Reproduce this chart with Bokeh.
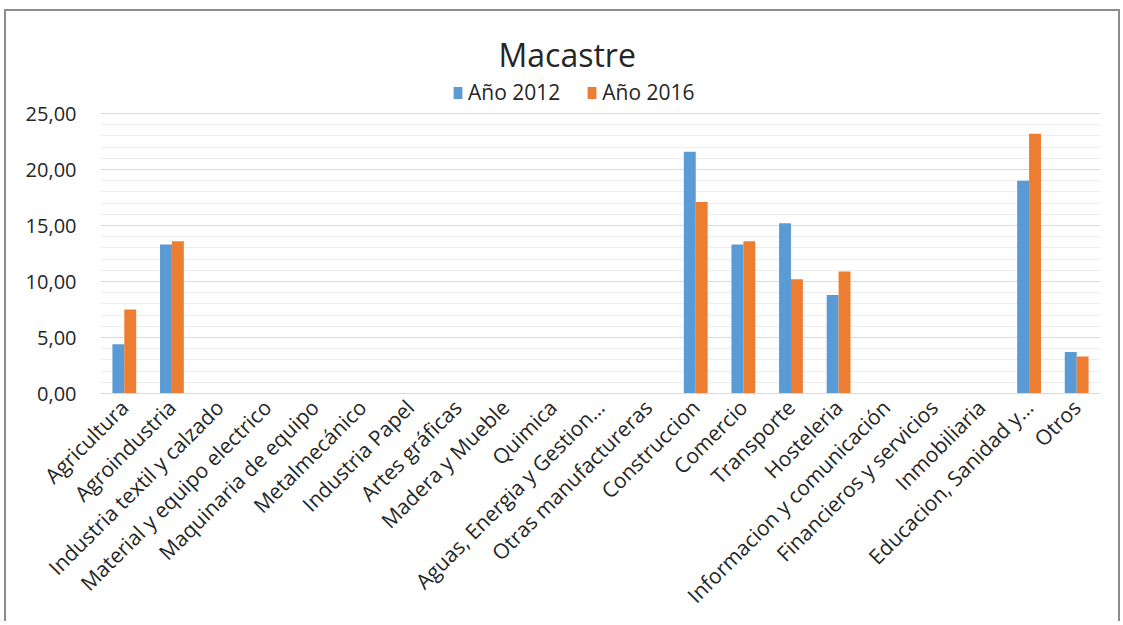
from bokeh.plotting import figure
from bokeh.models import (ColumnDataSource, FactorRange, Range1d, FixedTicker,
                          CustomJSTickFormatter, Legend, LegendItem)
from bokeh.transform import dodge
from bokeh.embed import file_html
from bokeh.resources import INLINE
import math

categories = ["Agricultura", "Agroindustria", "Industria textil y calzado",
              "Material y equipo electrico", "Maquinaria de equipo", "Metalmecánico",
              "Industria Papel", "Artes gráficas", "Madera y Mueble", "Quimica",
              "Aguas, Energia y Gestion…", "Otras manufactureras", "Construccion",
              "Comercio", "Transporte", "Hosteleria", "Informacion y comunicación",
              "Financieros y servicios", "Inmobiliaria", "Educacion, Sanidad y…", "Otros"]
anio_2012 = [4.4, 13.3, 0, 0, 0, 0, 0, 0, 0, 0, 0, 0, 21.6, 13.3, 15.2, 8.8, 0, 0, 0, 19.0, 3.7]
anio_2016 = [7.5, 13.6, 0, 0, 0, 0, 0, 0, 0, 0, 0, 0, 17.1, 13.6, 10.2, 10.9, 0, 0, 0, 23.2, 3.3]
series_names = ["Año 2012", "Año 2016"]
y_major_ticks = [0, 5, 10, 15, 20, 25]
y_minor_ticks = [v for v in range(1, 25) if v % 5]

src = ColumnDataSource(dict(cat=categories, a=anio_2012, b=anio_2016))

FONT = "Open Sans"
PX_PER_UNIT = 11.2
Y_TOP = 28.4  # extra headroom above 25 for the legend (no gridlines there)
p = figure(x_range=FactorRange(*categories), y_range=Range1d(0, Y_TOP),
           frame_width=1000, frame_height=int(round(Y_TOP * PX_PER_UNIT)),
           output_backend="svg", toolbar_location=None, title="Macastre")
p.min_border_left = 94
p.min_border_right = 18
p.min_border_top = 64
p.min_border_bottom = 226

p.title.align = "left"
p.title.offset = 398
p.title.text_font = FONT
p.title.text_font_style = "normal"
p.title.text_font_size = "32px"
p.title.text_color = "#262626"
p.title.standoff = 0

r1 = p.vbar(x=dodge("cat", -0.125, range=p.x_range), top="a", width=0.25, source=src,
            fill_color="#5B9BD5", line_color=None)
r2 = p.vbar(x=dodge("cat", 0.125, range=p.x_range), top="b", width=0.25, source=src,
            fill_color="#ED7D31", line_color=None)

legend = Legend(items=[LegendItem(label=series_names[0], renderers=[r1]),
                       LegendItem(label=series_names[1], renderers=[r2])],
                orientation="horizontal", location=(352, 287),
                label_text_font=FONT, label_text_font_size="21px",
                label_text_color="#262626", glyph_width=11, glyph_height=15,
                spacing=26, padding=0, margin=0, border_line_color=None,
                background_fill_alpha=0, label_standoff=5, label_height=20)
p.add_layout(legend, "center")

p.yaxis.ticker = FixedTicker(ticks=y_major_ticks, minor_ticks=y_minor_ticks)
p.yaxis.formatter = CustomJSTickFormatter(code="return tick.toFixed(2).replace('.', ',');")
p.yaxis.axis_line_color = None
p.yaxis.major_tick_line_color = None
p.yaxis.minor_tick_line_color = None
p.yaxis.major_label_text_font = FONT
p.yaxis.major_label_text_font_size = "20px"
p.yaxis.major_label_text_color = "#262626"
p.yaxis.major_label_standoff = 18

p.xaxis.axis_line_color = "#d9d9d9"
p.xaxis.axis_line_width = 1
p.xaxis.major_tick_line_color = None
p.xaxis.minor_tick_line_color = None
p.xaxis.major_label_orientation = math.pi / 4
p.xaxis.major_label_text_font = FONT
p.xaxis.major_label_text_font_size = "21px"
p.xaxis.major_label_text_color = "#262626"
p.xaxis.major_label_standoff = 4

p.xgrid.grid_line_color = None
p.ygrid.grid_line_color = "#d9d9d9"
p.ygrid.minor_grid_line_color = "#ececec"
p.x_range.range_padding = 0.0
p.outline_line_color = None

p.styles = {"margin-left": "4px", "margin-top": "9px",
            "border-left": "2px solid #8c8c8c", "border-top": "2px solid #8c8c8c",
            "border-right": "2px solid #8c8c8c"}

open("out.html", "w").write(file_html(p, INLINE))
